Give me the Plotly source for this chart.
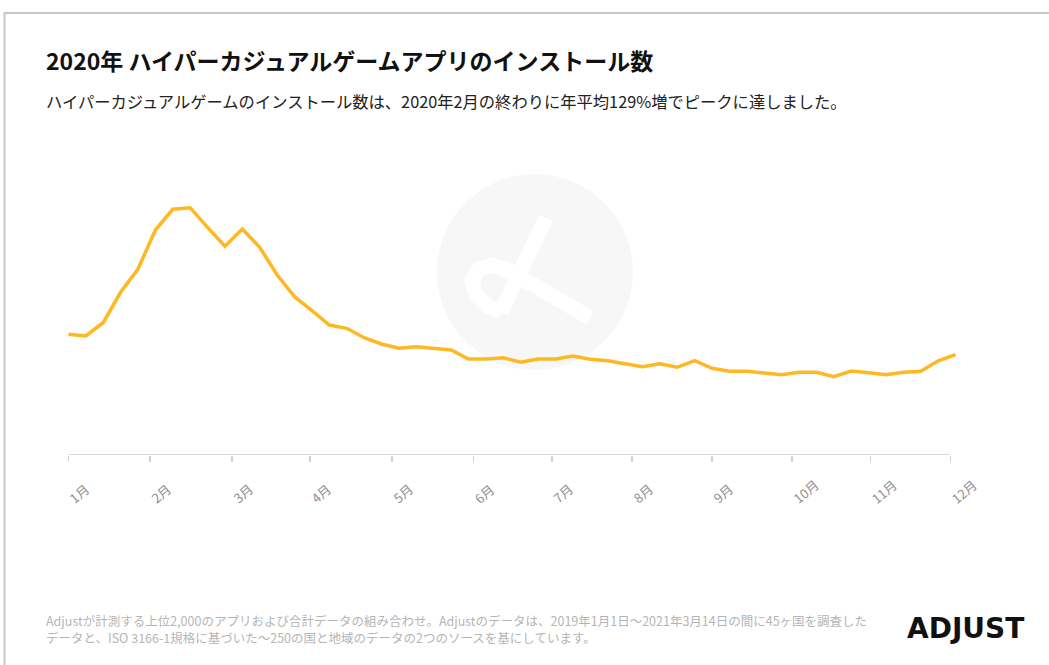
import plotly.graph_objects as go

# ---------------- data ----------------
week_index = list(range(52))
installs_index = [120.7, 119, 132.3, 162.7, 186, 225, 245.7, 247.3, 227.7, 208.7,
                  226, 207.7, 180, 158.3, 144.3, 130, 126.7, 117.3, 111, 106.7,
                  108.3, 107, 105, 96, 96, 97.3, 92.7, 96, 96, 99,
                  95.7, 94.2, 91.5, 88.3, 91.2, 87.7, 94.3, 86.7, 83.7, 83.7,
                  82, 80.3, 82.7, 82.7, 78.3, 84, 82.3, 80.3, 82.7, 83.7,
                  94.2, 100.3]
month_labels = ["1月", "2月", "3月", "4月", "5月", "6月", "7月", "8月", "9月", "10月", "11月", "12月"]
month_tick_pos = [0, 4.7, 9.4, 13.9, 18.6, 23.3, 27.8, 32.4, 37.0, 41.6, 46.1, 50.7]

title_text = "2020年 ハイパーカジュアルゲームアプリのインストール数"
subtitle_text = "ハイパーカジュアルゲームのインストール数は、2020年2月の終わりに年平均129%増でピークに達しました。"
footer_1 = "Adjustが計測する上位2,000のアプリおよび合計データの組み合わせ。Adjustのデータは、2019年1月1日～2021年3月14日の間に45ヶ国を調査した"
footer_2 = "データと、ISO 3166-1規格に基づいた～250の国と地域のデータの2つのソースを基にしています。"

# ---------------- layout geometry (page pixels, body margin removed) ----------------
W, H = 1049, 665
PLOT_L, PLOT_R, PLOT_T, PLOT_B = 51, 973, 150, 455
ML, MT = PLOT_L, PLOT_T
MR, MB = W - PLOT_R, H - PLOT_B
PW = PLOT_R - PLOT_L
PH = PLOT_B - PLOT_T
X_RANGE = [-1, 52]
Y_RANGE = [0, 305]

def px_x(px):
    return (px - PLOT_L) / PW

def px_y(py):
    return (PLOT_B - py) / PH

JP = "Noto Sans CJK JP"
LINE_COLOR = "#FDB823"

fig = go.Figure()
fig.add_trace(go.Scatter(
    x=week_index, y=installs_index, mode="lines",
    line=dict(color=LINE_COLOR, width=3.5), hoverinfo="skip", showlegend=False,
))

shapes = []
# outer frame
shapes.append(dict(type="rect", xref="paper", yref="paper",
                   x0=px_x(4.5), x1=px_x(1080), y0=px_y(700), y1=px_y(13),
                   line=dict(color="#c8c8c8", width=2), fillcolor="rgba(0,0,0,0)", layer="below"))
# watermark circle
shapes.append(dict(type="circle", xref="paper", yref="paper",
                   x0=px_x(437), x1=px_x(633), y0=px_y(370), y1=px_y(174),
                   line=dict(width=0), fillcolor="#f7f7f7", layer="below"))

def path_from(points):
    return "M " + " L ".join(f"{px_x(a):.4f},{px_y(b):.4f}" for a, b in points)

# watermark logo strokes (white)
for pts in [
    [(546, 218), (501, 312)],
    [(590, 318), (508, 270), (492, 265), (479, 269), (472, 281), (476, 295), (489, 307), (501, 312)],
]:
    shapes.append(dict(type="path", xref="paper", yref="paper", path=path_from(pts),
                       line=dict(color="white", width=15), layer="below"))

# x axis baseline
shapes.append(dict(type="line", xref="x", yref="y", x0=month_tick_pos[0], x1=month_tick_pos[-1],
                   y0=0, y1=0, line=dict(color="#d9d9d9", width=2), layer="below"))

annotations = []
annotations.append(dict(text=f"<b>{title_text}</b>", xref="paper", yref="paper",
                        x=px_x(44), y=px_y(60), xanchor="left", yanchor="middle",
                        showarrow=False, font=dict(family=JP, size=23, color="#111111")))
annotations.append(dict(text=subtitle_text, xref="paper", yref="paper",
                        x=px_x(44), y=px_y(101), xanchor="left", yanchor="middle",
                        showarrow=False, font=dict(family=JP, size=16.3, color="#222222")))
for txt, yy in [(footer_1, 620), (footer_2, 637)]:
    annotations.append(dict(text=txt, xref="paper", yref="paper",
                            x=px_x(44), y=px_y(yy), xanchor="left", yanchor="middle",
                            showarrow=False, font=dict(family=JP, size=12.5, color="#b5b5b5")))
annotations.append(dict(text="<b>ADJUST</b>", xref="paper", yref="paper",
                        x=px_x(965), y=px_y(628), xanchor="center", yanchor="middle",
                        showarrow=False, font=dict(family="DejaVu Sans", size=28, color="#111111")))

# rotated month labels
for lab, pos in zip(month_labels, month_tick_pos):
    digits = len(lab) - 1
    w = (0.55 * digits + 1) * 13
    cx_shift = 3 + 0.383 * w
    cy = 500 - 0.32 * w
    annotations.append(dict(text=lab, xref="x", yref="y", x=pos, y=0,
                            xanchor="center", yanchor="middle", textangle=-40,
                            xshift=cx_shift, yshift=-(cy - PLOT_B), showarrow=False,
                            font=dict(family=JP, size=13, color="#8f8f8f")))

fig.update_layout(
    width=W, height=H,
    margin=dict(l=ML, r=MR, t=MT, b=MB, pad=0),
    paper_bgcolor="white", plot_bgcolor="rgba(0,0,0,0)",
    shapes=shapes, annotations=annotations, showlegend=False,
    xaxis=dict(range=X_RANGE, showgrid=False, zeroline=False, showline=False,
               tickmode="array", tickvals=month_tick_pos, ticktext=[""] * len(month_tick_pos),
               ticks="outside", ticklen=6, tickwidth=1.5, tickcolor="#d0d0d0", fixedrange=True),
    yaxis=dict(range=Y_RANGE, showgrid=False, zeroline=False, showline=False,
               showticklabels=False, ticks="", fixedrange=True),
)

fig.write_html("out.html", config={"displayModeBar": False, "staticPlot": True},
               post_script="document.body.style.margin='0';document.body.style.overflow='hidden';")
